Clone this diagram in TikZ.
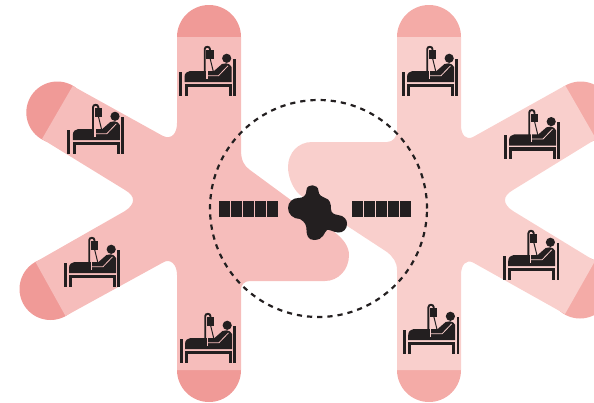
\documentclass[tikz,border=0pt]{standalone}
\definecolor{leftarm}{HTML}{F6BDBB}
\definecolor{leftcap}{HTML}{F09A97}
\definecolor{rightarm}{HTML}{F9CFCC}
\definecolor{rightcap}{HTML}{F4ABA7}
\definecolor{ink}{HTML}{231F20}
\tikzset{
  bedicon/.pic={
    % posts and frame
    \fill[ink] (0,26) rectangle (3,49.5);
    \fill[ink] (5.5,38) rectangle (8.5,49.5);
    \fill[ink] (53.8,12.5) rectangle (56.7,49.5);
    \fill[ink] (49.5,38) rectangle (52.5,49.5);
    \fill[ink] (5.5,37.8) rectangle (52.5,41.2);
    % mattress, patient's back
    \fill[ink] (5.5,36.2) -- (5.5,31) .. controls (5.5,27.5) and (8,25) .. (11,25)
      -- (33,25) -- (35,25) -- (43,18) .. controls (46,17) and (49,17) .. (50.5,18.5)
      -- (52.5,21) -- (52.5,36.2) -- cycle;
    % gaps cut in the black
    \draw[gapcol,line width=.8pt] (27.5,29.7) -- (39.5,29.7) -- (49,19.8);
    \fill[gapcol] (27,24) rectangle (28.5,33);
    % head
    \fill[ink] (47.7,12.3) circle[radius=4.6pt];
    % drip stand, bag, tube
    \draw[ink,line width=1.9pt] (25.7,31) -- (25.7,3.2) .. controls (25.7,0) and (31,0) .. (31,3.2) -- (31,5);
    \fill[ink] (27.4,4.4) rectangle (34.6,12.6);
    \draw[ink,line width=1pt] (31,12) -- (34.3,25.5);
  },
  dashring/.style={ink,line width=2.2pt,dash pattern=on 5.2pt off 5pt},
  cell/.style={fill=ink}
}
\begin{document}
\begin{tikzpicture}[x=1pt,y=-1pt]
\useasboundingbox (0,0) rectangle (594,402);
\clip (0,0) rectangle (594,402);
% left caps
\fill[leftcap] (209,37) circle[radius=32pt];
\fill[leftcap] (209,370) circle[radius=32pt];
\fill[leftcap] (57.3,112.5) circle[radius=31pt];
\fill[leftcap] (50.5,289) circle[radius=31pt];
% left body
\fill[leftarm] (241,37) -- (241,150) .. controls (241,160) and (244,166) .. (250,170)
  -- (333,231) .. controls (344,239) and (349,247) .. (349,255)
  .. controls (349,270) and (338,281) .. (325,281) -- (250,281)
  .. controls (244,281) and (241,285) .. (241,290) -- (241,370) -- (177,370) -- (177,275)
  .. controls (177,264) and (170,258) .. (163,262.5) -- (65.5,316) -- (35.5,262) -- (125,211)
  .. controls (135.7,204) and (135.7,196) .. (125,190) -- (42,139) -- (72.7,86) -- (163,136)
  .. controls (172,140) and (177,133) .. (177,123) -- (177,37) -- cycle;
% right caps
\fill[rightcap] (429,37) circle[radius=32pt];
\fill[rightcap] (429,370) circle[radius=32pt];
\fill[rightcap] (580.7,112.5) circle[radius=31pt];
\fill[rightcap] (580,287.5) circle[radius=31pt];
% right body
\fill[rightarm] (397,37) -- (397,130) .. controls (397,137) and (393,142) .. (387,142)
  -- (312,142) .. controls (298,142) and (288,153) .. (288,167)
  .. controls (288,178) and (294,192) .. (303,197) -- (387,252)
  .. controls (393,257) and (397,262) .. (397,270) -- (397,370) -- (461,370) -- (461,275)
  .. controls (461,265) and (466,259) .. (473,262.5) -- (565,314) -- (595,261) -- (513,211)
  .. controls (502.3,204) and (502.3,196) .. (513,190) -- (596,139) -- (565.3,85.5) -- (473,137)
  .. controls (466,140.5) and (461,135) .. (461,125) -- (461,37) -- cycle;
% ring
\draw[dashring] (318.5,208.5) circle[radius=108.5pt];
% modules
\foreach \i in {0,...,4} {
  \fill[cell] ({218.5+12.1*\i},200.7) rectangle ++(11.1,16.6);
  \fill[cell] ({351.9+12.1*\i},200.7) rectangle ++(11.1,16.6);
}
% central blob
\fill[ink] (306.5,190) .. controls (306.5,183.5) and (318.5,183.5) .. (318.5,191)
  .. controls (318.5,195) and (322,197) .. (325,198)
  .. controls (330,199) and (331,204) .. (331,209)
  .. controls (331,213) and (334,214.5) .. (338,215)
  .. controls (344,215.5) and (347.5,220) .. (347,224)
  .. controls (347,229) and (343,233) .. (338,232.5)
  .. controls (333,232) and (329,229) .. (327,230)
  .. controls (324,232) and (324,240) .. (314,240)
  .. controls (308,240) and (306.5,235) .. (306.5,230)
  .. controls (306.5,225) and (305,222) .. (300,219)
  .. controls (293,219) and (288,214) .. (288,208)
  .. controls (288,202) and (293,198) .. (298,198)
  .. controls (303,198) and (306.5,196) .. (306.5,190) -- cycle;
% bed icons
\colorlet{gapcol}{leftarm}
\pic at (179,46) {bedicon};
\pic at (67.3,104) {bedicon};
\pic at (63.5,237) {bedicon};
\pic at (179.5,313) {bedicon};
\colorlet{gapcol}{rightarm}
\pic at (401.5,46) {bedicon};
\pic at (503.5,109.3) {bedicon};
\pic at (502.7,230) {bedicon};
\pic at (402.7,304) {bedicon};
\end{tikzpicture}
\end{document}
